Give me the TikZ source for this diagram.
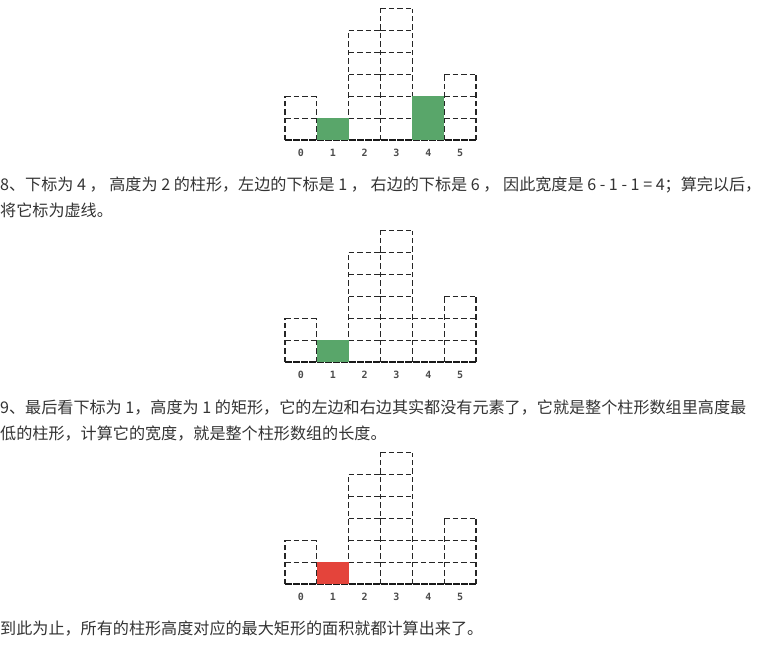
\documentclass[tikz,border=0pt]{standalone}
\usepackage{fontspec}
\setmainfont{Noto Sans CJK SC}
\newfontfamily\idxfont{DejaVu Sans Mono}
\definecolor{textgray}{HTML}{333333}
\definecolor{bargreen}{HTML}{59A66A}
\definecolor{barred}{HTML}{E4443B}

\begin{document}
\begin{tikzpicture}[x = 1pt, y = -1pt, font = \fontsize{16.1}{19}\selectfont,
    cell/.style = {draw = black!85, line width = 1.2pt, dash pattern = on 5.5pt off 3pt},
    baseline/.style = {draw = black!90, line width = 1.5pt, dash pattern = on 7pt off 1pt},
    idx/.style = {font = \idxfont\bfseries\fontsize{10}{11}\selectfont, text = black!70},
    para/.style = {anchor = base west, inner sep = 0pt, text = textgray}]
        \useasboundingbox (0,0) rectangle (762,645);

        % three bar charts, heights 2 1 5 6 2 3
        \foreach \base/\k in {140/1, 362/2, 584/3} {
            % column borders, each drawn once
            \foreach \x/\t in {0/2, 1/2, 2/5, 3/6, 4/6, 5/3, 6/3}
                \draw [cell] (285+\x*31.83, \base) -- ++(0,-\t*21.9);
            % cell tops
            \foreach \h [count = \c from 0] in {2,1,5,6,2,3} {
                \foreach \r in {1,...,\h}
                    \draw [cell] (285+\c*31.83, \base-\r*21.9) -- +(31.83,0);
                \node [idx] (idx\k-\c) at (301+\c*31.83, \base+13) {\c};
            }
            \draw [baseline] (285,\base) -- (476,\base);
        }

        % highlighted bars
        \fill [bargreen] (316.8,140) rectangle (348.6,118.1);
        \fill [bargreen] (412.3,140) rectangle (444.1,96.2);
        \fill [bargreen] (316.8,362) rectangle (348.6,340.1);
        \fill [barred] (316.8,584) rectangle (348.6,562.1);

        % text
        \node [para] (step8a) at (0,190) {8、下标为 4 ， 高度为 2 的柱形，左边的下标是 1 ， 右边的下标是 6 ， 因此宽度是 6 - 1 - 1 = 4；算完以后，};
        \node [para] (step8b) at (0,216) {将它标为虚线。};
        \node [para] (step9a) at (0,413) {9、最后看下标为 1，高度为 1 的矩形，它的左边和右边其实都没有元素了，它就是整个柱形数组里高度最};
        \node [para] (step9b) at (0,439) {低的柱形，计算它的宽度，就是整个柱形数组的长度。};
        \node [para] (final) at (0,634) {到此为止，所有的柱形高度对应的最大矩形的面积就都计算出来了。};
    \end{tikzpicture}
\end{document}
